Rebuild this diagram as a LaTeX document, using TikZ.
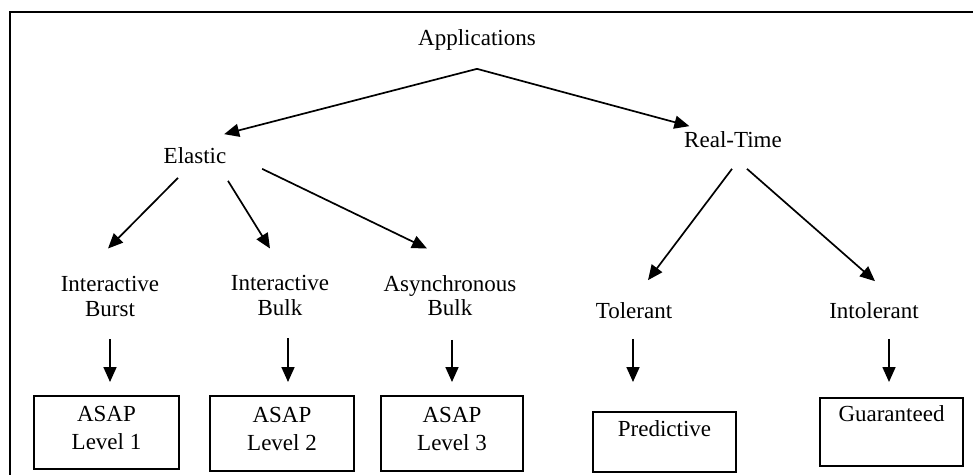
\documentclass[tikz,border=0pt]{standalone}
\usepackage{fontspec}
\setmainfont{Liberation Serif}
\usepackage{tikz}
\usetikzlibrary{positioning,arrows.meta}

\begin{document}
\begin{tikzpicture}[
x=1pt,y=-1pt,
every node/.style={font=\fontsize{23}{24.5}\selectfont,inner sep=0pt},
lbl/.style={text height=16pt,text depth=5pt},
two/.style={align=center,anchor=north},
box/.style={draw,line width=2pt,minimum width=145pt,anchor=north west},
>={Triangle[length=15pt,width=13pt]},
line width=1.7pt
]
\useasboundingbox (0,0) rectangle (973,475);
\draw[line width=2pt] (973,12) -- (10,12) -- (10,475);

\node[lbl] (app) at (477,39.5) {Applications};
\node[lbl] (el) at (195,157.5) {Elastic};
\node[lbl] (rt) at (733,141.5) {Real-Time};
\node[two] (ib) at (110,275.5) {Interactive\\Burst};
\node[two] (ibk) at (280,274.5) {Interactive\\Bulk};
\node[two] (ab) at (450,274.5) {Asynchronous\\Bulk};
\node[lbl] (tol) at (634,312.5) {Tolerant};
\node[lbl] (intol) at (874,312.5) {Intolerant};

\node[box,align=center,minimum height=73pt] (l1) at (33,395) {ASAP\\[3.5pt]Level 1\rule[-10pt]{0pt}{0pt}};
\node[box,align=center,minimum height=75pt,minimum width=144pt] (l2) at (209,395) {ASAP\\[3.5pt]Level 2\rule[-10pt]{0pt}{0pt}};
\node[box,align=center,minimum height=75pt,minimum width=142pt] (l3) at (380,395) {ASAP\\[3.5pt]Level 3\rule[-10pt]{0pt}{0pt}};
\node[box,minimum width=143pt,text height=24pt,text depth=36pt] (pred) at (592,411) {Predictive};
\node[box,minimum width=143pt,text height=23pt,text depth=45pt] (guar) at (819,397) {Guaranteed};

\coordinate[below=18pt of app] (apex);
\draw[->] (apex) -- ([xshift=-3pt,yshift=12pt]el.north east);
\draw[->] (apex) -- ([xshift=6pt,yshift=4pt]rt.north west);

\draw[->] ([xshift=-17pt,yshift=-9pt]el.south) -- ([xshift=-2pt,yshift=27pt]ib.north);
\draw[->] ([xshift=33pt,yshift=-12pt]el.south) -- ([xshift=-10pt,yshift=26pt]ibk.north);
\draw[->] ([xshift=35pt]el.south east) -- ([xshift=-23pt,yshift=26pt]ab.north);
\draw[->] ([xshift=-1pt,yshift=-16pt]rt.south) -- ([xshift=14pt,yshift=21pt]tol.north);
\draw[->] ([xshift=14pt,yshift=-16pt]rt.south) -- ([xshift=1pt,yshift=20pt]intol.north);

\draw[->] ([yshift=-22pt]ib.south) -- ([yshift=13pt]ib.south |- l1.north);
\draw[->] ([xshift=8pt,yshift=-22pt]ibk.south) -- ([xshift=8pt,yshift=13pt]ibk.south |- l2.north);
\draw[->] ([xshift=2pt,yshift=-23pt]ab.south) -- ([xshift=2pt,yshift=13pt]ab.south |- l3.north);
\draw[->] ([xshift=-1pt,yshift=-15pt]tol.south) -- ([xshift=-1pt,yshift=29pt]tol.south |- pred.north);
\draw[->] ([xshift=15pt,yshift=-15pt]intol.south) -- ([xshift=15pt,yshift=15pt]intol.south |- guar.north);
\end{tikzpicture}
\end{document}
